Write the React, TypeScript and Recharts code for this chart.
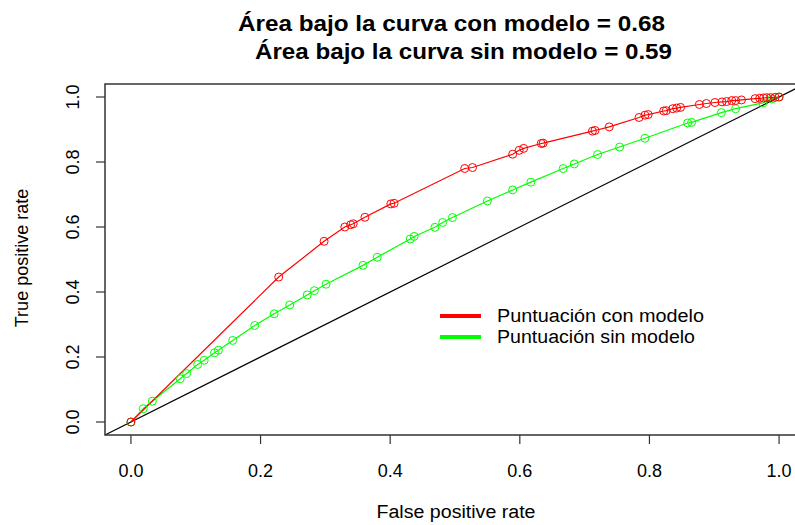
import React from 'react';
import { LineChart, Line, XAxis, YAxis, ReferenceLine } from 'recharts';

// ROC points
const conModeloFpr = [
  0, 0.228, 0.298, 0.33, 0.339, 0.343, 0.361, 0.401, 0.406, 0.515, 0.527, 0.589, 0.599, 0.606,
  0.633, 0.636, 0.712, 0.716, 0.738, 0.784, 0.793, 0.798, 0.822, 0.826, 0.836, 0.842, 0.848,
  0.877, 0.888, 0.901, 0.912, 0.919, 0.927, 0.933, 0.942, 0.963, 0.97, 0.976, 0.981, 0.987,
  0.994, 1,
];
const conModeloTpr = [
  0, 0.446, 0.556, 0.6, 0.607, 0.61, 0.63, 0.671, 0.673, 0.78, 0.783, 0.824, 0.836, 0.842,
  0.857, 0.858, 0.895, 0.897, 0.908, 0.937, 0.944, 0.946, 0.957, 0.958, 0.964, 0.966, 0.968,
  0.977, 0.98, 0.983, 0.985, 0.986, 0.989, 0.989, 0.991, 0.995, 0.996, 0.997, 0.998, 0.998,
  0.999, 1,
];
const sinModeloFpr = [
  0, 0.019, 0.033, 0.076, 0.086, 0.103, 0.113, 0.129, 0.135, 0.157, 0.191, 0.221, 0.245, 0.272,
  0.283, 0.301, 0.358, 0.38, 0.431, 0.437, 0.469, 0.481, 0.496, 0.55, 0.589, 0.617, 0.667,
  0.684, 0.72, 0.754, 0.793, 0.859, 0.865, 0.911, 0.933, 0.975, 0.989, 1,
];
const sinModeloTpr = [
  0, 0.041, 0.064, 0.133, 0.149, 0.177, 0.19, 0.213, 0.221, 0.251, 0.297, 0.333, 0.36, 0.391,
  0.404, 0.424, 0.482, 0.507, 0.563, 0.571, 0.599, 0.614, 0.629, 0.68, 0.714, 0.738, 0.78,
  0.794, 0.823, 0.846, 0.873, 0.92, 0.922, 0.952, 0.964, 0.982, 0.994, 1,
];
const axisTicks = [0, 0.2, 0.4, 0.6, 0.8, 1];

const titulo1 = 'Área bajo la curva con modelo = 0.68';
const titulo2 = 'Área bajo la curva sin modelo = 0.59';
const leyenda = ['Puntuación con modelo', 'Puntuación sin modelo'];

const conModelo = conModeloFpr.map((x, i) => ({ x, y: conModeloTpr[i] }));
const sinModelo = sinModeloFpr.map((x, i) => ({ x, y: sinModeloTpr[i] }));

const FONT = '"Liberation Sans", Arial, sans-serif';
const RED = '#ff0000';
const GREEN = '#00ff00';

const XTick = ({ x, payload }: any) => (
  <text x={x} y={477} textAnchor="middle" fontSize={18} fontFamily={FONT} fill="#000">
    {Number(payload.value).toFixed(1)}
  </text>
);

const YTick = ({ y, payload }: any) => (
  <text
    x={79}
    y={y}
    transform={`rotate(-90 79 ${y})`}
    textAnchor="middle"
    fontSize={18}
    fontFamily={FONT}
    fill="#000"
  >
    {Number(payload.value).toFixed(1)}
  </text>
);

export default function App() {
  return (
    <div style={{ position: 'fixed', left: 0, top: 0, width: 795, height: 525, overflow: 'hidden', background: '#fff' }}>
      <LineChart width={820} height={525} margin={{ top: 84, right: 15, bottom: 40, left: 55 }}>
        <XAxis
          type="number"
          dataKey="x"
          domain={[-0.04, 1.04]}
          ticks={axisTicks}
          allowDataOverflow
          axisLine={false}
          tickLine={{ stroke: '#333', strokeWidth: 1.2 }}
          tickSize={9}
          height={50}
          tick={<XTick />}
        />
        <YAxis
          type="number"
          dataKey="y"
          domain={[-0.04, 1.04]}
          ticks={axisTicks}
          allowDataOverflow
          axisLine={false}
          tickLine={{ stroke: '#333', strokeWidth: 1.2 }}
          tickSize={9}
          width={50}
          tick={<YTick />}
        />
        <ReferenceLine
          segment={[{ x: -0.04, y: -0.04 }, { x: 1.04, y: 1.04 }]}
          stroke="#000"
          strokeWidth={1.2}
        />
        <Line
          data={sinModelo}
          dataKey="y"
          type="linear"
          stroke={GREEN}
          strokeWidth={1.2}
          dot={{ r: 4, fill: 'none', stroke: GREEN, strokeWidth: 1 }}
          isAnimationActive={false}
        />
        <Line
          data={conModelo}
          dataKey="y"
          type="linear"
          stroke={RED}
          strokeWidth={1.2}
          dot={{ r: 4, fill: 'none', stroke: RED, strokeWidth: 1 }}
          isAnimationActive={false}
        />
      </LineChart>
      <svg
        width={795}
        height={525}
        style={{ position: 'absolute', left: 0, top: 0, pointerEvents: 'none' }}
        fontFamily={FONT}
      >
        <rect x={105} y={84} width={700} height={351} fill="none" stroke="#333" strokeWidth={1.5} />
        <text x={451.5} y={31} textAnchor="middle" fontSize={22} fontWeight="bold" textLength={427} lengthAdjust="spacingAndGlyphs">
          {titulo1}
        </text>
        <text x={463.5} y={59} textAnchor="middle" fontSize={22} fontWeight="bold" textLength={417} lengthAdjust="spacingAndGlyphs">
          {titulo2}
        </text>
        <text x={456} y={518} textAnchor="middle" fontSize={18} textLength={159} lengthAdjust="spacingAndGlyphs">
          False positive rate
        </text>
        <text x={28} y={258} transform="rotate(-90 28 258)" textAnchor="middle" fontSize={18}>
          True positive rate
        </text>
        <line x1={440} x2={481} y1={316} y2={316} stroke={RED} strokeWidth={4} />
        <line x1={440} x2={481} y1={337} y2={337} stroke={GREEN} strokeWidth={4} />
        <text x={497} y={322} fontSize={18} textLength={207} lengthAdjust="spacingAndGlyphs">
          {leyenda[0]}
        </text>
        <text x={497} y={343} fontSize={18} textLength={198} lengthAdjust="spacingAndGlyphs">
          {leyenda[1]}
        </text>
      </svg>
    </div>
  );
}
